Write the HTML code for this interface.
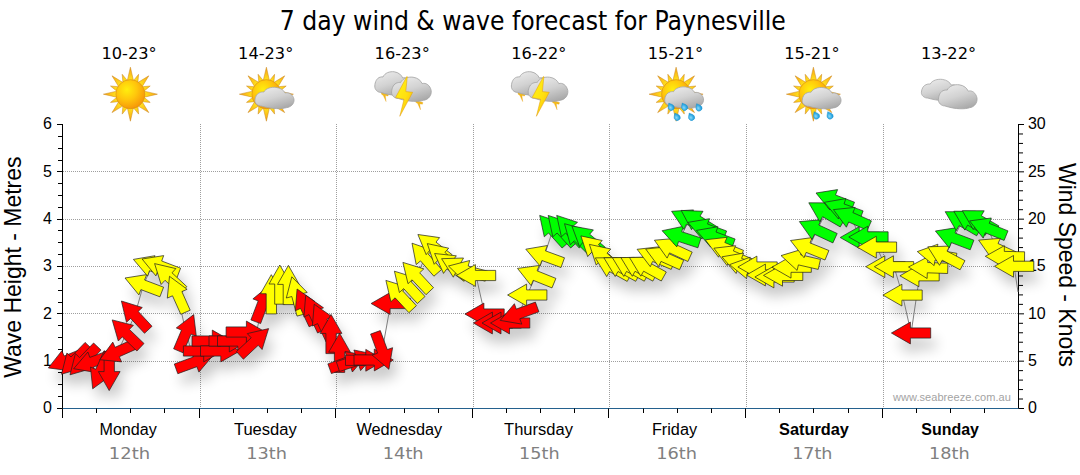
<!DOCTYPE html><html><head><meta charset="utf-8"><title>7 day wind &amp; wave forecast for Paynesville</title>
<style>html,body{margin:0;padding:0;background:#fff}svg{display:block}.ar{font-family:"Liberation Sans",Arial,sans-serif}.th{font-family:"DejaVu Sans Condensed","DejaVu Sans",Tahoma,sans-serif}.vd{font-family:"DejaVu Sans",Verdana,sans-serif}</style></head><body>
<svg width="1080" height="475" viewBox="0 0 1080 475">
<defs>
<filter id="sh" x="-5%" y="-30%" width="110%" height="170%"><feGaussianBlur stdDeviation="6.2"/></filter>
<radialGradient id="gs" cx="38%" cy="34%" r="70%"><stop offset="0" stop-color="#ffee0e"/><stop offset="0.5" stop-color="#ffc60c"/><stop offset="1" stop-color="#f69408"/></radialGradient>
<linearGradient id="gr" x1="0" y1="0" x2="0" y2="1"><stop offset="0" stop-color="#ffd21e"/><stop offset="1" stop-color="#f3a013"/></linearGradient>
<linearGradient id="gc" x1="0.2" y1="0" x2="0.7" y2="1"><stop offset="0" stop-color="#ebebeb"/><stop offset="0.5" stop-color="#d2d2d2"/><stop offset="1" stop-color="#a8a8a8"/></linearGradient>
<linearGradient id="gb" x1="0" y1="0" x2="1" y2="1"><stop offset="0" stop-color="#fff614"/><stop offset="0.55" stop-color="#ffe010"/><stop offset="1" stop-color="#f6ad0c"/></linearGradient>
<radialGradient id="gd" cx="40%" cy="60%" r="60%"><stop offset="0" stop-color="#8bd8f7"/><stop offset="0.6" stop-color="#35ade6"/><stop offset="1" stop-color="#1795d6"/></radialGradient>
</defs>
<rect width="1080" height="475" fill="#fff"/>
<path d="M63 361.5H1018.0 M63 313.5H1018.0 M63 266.5H1018.0 M63 219.5H1018.0 M63 171.5H1018.0 M200.5 124V408 M336.5 124V408 M473.5 124V408 M609.5 124V408 M746.5 124V408 M883.5 124V408" stroke="#9e9e9e" stroke-width="1" stroke-dasharray="1 1" fill="none" shape-rendering="crispEdges"/>
<text class="th" x="532.8" y="29.8" font-size="27" text-anchor="middle" textLength="506" lengthAdjust="spacingAndGlyphs" fill="#000">7 day wind &amp; wave forecast for Paynesville</text>
<text class="th" x="129.1" y="58.5" font-size="15.6" text-anchor="middle" textLength="55.2" lengthAdjust="spacingAndGlyphs" fill="#000">10-23°</text>
<text class="th" x="265.7" y="58.5" font-size="15.6" text-anchor="middle" textLength="55.2" lengthAdjust="spacingAndGlyphs" fill="#000">14-23°</text>
<text class="th" x="402.2" y="58.5" font-size="15.6" text-anchor="middle" textLength="55.2" lengthAdjust="spacingAndGlyphs" fill="#000">16-23°</text>
<text class="th" x="538.8" y="58.5" font-size="15.6" text-anchor="middle" textLength="55.2" lengthAdjust="spacingAndGlyphs" fill="#000">16-22°</text>
<text class="th" x="675.4" y="58.5" font-size="15.6" text-anchor="middle" textLength="55.2" lengthAdjust="spacingAndGlyphs" fill="#000">15-21°</text>
<text class="th" x="811.9" y="58.5" font-size="15.6" text-anchor="middle" textLength="55.2" lengthAdjust="spacingAndGlyphs" fill="#000">15-21°</text>
<text class="th" x="948.5" y="58.5" font-size="15.6" text-anchor="middle" textLength="55.2" lengthAdjust="spacingAndGlyphs" fill="#000">13-22°</text>
<radialGradient id="sr1" gradientUnits="userSpaceOnUse" cx="130.4" cy="94.2" r="27.5"><stop offset="0.5" stop-color="#ffe31c"/><stop offset="0.78" stop-color="#fcbd18"/><stop offset="1" stop-color="#f29714"/></radialGradient><path d="M127.4 80.3L130.4 67.2L133.4 80.3Z" fill="url(#sr1)" stroke="#c9861a" stroke-width="0.5"/><path d="M133.6 80.4L138.6 74.3L137.9 82.2Z" fill="url(#sr1)" stroke="#c9861a" stroke-width="0.5"/><path d="M138.2 82.3L148.8 75.8L142.3 86.4Z" fill="url(#sr1)" stroke="#c9861a" stroke-width="0.5"/><path d="M142.4 86.7L150.2 86.0L144.2 91.0Z" fill="url(#sr1)" stroke="#c9861a" stroke-width="0.5"/><path d="M144.3 91.2L157.4 94.2L144.3 97.2Z" fill="url(#sr1)" stroke="#c9861a" stroke-width="0.5"/><path d="M144.2 97.4L150.2 102.4L142.4 101.7Z" fill="url(#sr1)" stroke="#c9861a" stroke-width="0.5"/><path d="M142.3 102.0L148.8 112.6L138.2 106.1Z" fill="url(#sr1)" stroke="#c9861a" stroke-width="0.5"/><path d="M137.9 106.2L138.6 114.1L133.6 108.0Z" fill="url(#sr1)" stroke="#c9861a" stroke-width="0.5"/><path d="M133.4 108.1L130.4 121.2L127.4 108.1Z" fill="url(#sr1)" stroke="#c9861a" stroke-width="0.5"/><path d="M127.2 108.0L122.2 114.1L122.9 106.2Z" fill="url(#sr1)" stroke="#c9861a" stroke-width="0.5"/><path d="M122.6 106.1L112.0 112.6L118.5 102.0Z" fill="url(#sr1)" stroke="#c9861a" stroke-width="0.5"/><path d="M118.3 101.7L110.5 102.4L116.6 97.4Z" fill="url(#sr1)" stroke="#c9861a" stroke-width="0.5"/><path d="M116.5 97.2L103.4 94.2L116.5 91.2Z" fill="url(#sr1)" stroke="#c9861a" stroke-width="0.5"/><path d="M116.6 91.0L110.5 86.0L118.3 86.7Z" fill="url(#sr1)" stroke="#c9861a" stroke-width="0.5"/><path d="M118.5 86.4L112.0 75.8L122.6 82.3Z" fill="url(#sr1)" stroke="#c9861a" stroke-width="0.5"/><path d="M122.9 82.2L122.2 74.3L127.2 80.4Z" fill="url(#sr1)" stroke="#c9861a" stroke-width="0.5"/><circle cx="130.4" cy="94.2" r="14.5" fill="url(#gs)" stroke="#dc8f14" stroke-width="0.6"/>
<radialGradient id="sr2" gradientUnits="userSpaceOnUse" cx="266.4" cy="94.2" r="27.5"><stop offset="0.5" stop-color="#ffe31c"/><stop offset="0.78" stop-color="#fcbd18"/><stop offset="1" stop-color="#f29714"/></radialGradient><path d="M263.3 80.3L266.4 67.2L269.4 80.3Z" fill="url(#sr2)" stroke="#c9861a" stroke-width="0.5"/><path d="M269.6 80.4L274.6 74.3L273.9 82.2Z" fill="url(#sr2)" stroke="#c9861a" stroke-width="0.5"/><path d="M274.1 82.3L284.7 75.8L278.2 86.4Z" fill="url(#sr2)" stroke="#c9861a" stroke-width="0.5"/><path d="M278.4 86.7L286.2 86.0L280.2 91.0Z" fill="url(#sr2)" stroke="#c9861a" stroke-width="0.5"/><path d="M280.2 91.2L293.4 94.2L280.2 97.2Z" fill="url(#sr2)" stroke="#c9861a" stroke-width="0.5"/><path d="M280.2 97.4L286.2 102.4L278.4 101.7Z" fill="url(#sr2)" stroke="#c9861a" stroke-width="0.5"/><path d="M278.2 102.0L284.7 112.6L274.1 106.1Z" fill="url(#sr2)" stroke="#c9861a" stroke-width="0.5"/><path d="M273.9 106.2L274.6 114.1L269.6 108.0Z" fill="url(#sr2)" stroke="#c9861a" stroke-width="0.5"/><path d="M269.4 108.1L266.4 121.2L263.3 108.1Z" fill="url(#sr2)" stroke="#c9861a" stroke-width="0.5"/><path d="M263.2 108.0L258.1 114.1L258.8 106.2Z" fill="url(#sr2)" stroke="#c9861a" stroke-width="0.5"/><path d="M258.6 106.1L248.0 112.6L254.5 102.0Z" fill="url(#sr2)" stroke="#c9861a" stroke-width="0.5"/><path d="M254.3 101.7L246.5 102.4L252.5 97.4Z" fill="url(#sr2)" stroke="#c9861a" stroke-width="0.5"/><path d="M252.5 97.2L239.4 94.2L252.5 91.2Z" fill="url(#sr2)" stroke="#c9861a" stroke-width="0.5"/><path d="M252.5 91.0L246.5 86.0L254.3 86.7Z" fill="url(#sr2)" stroke="#c9861a" stroke-width="0.5"/><path d="M254.5 86.4L248.0 75.8L258.6 82.3Z" fill="url(#sr2)" stroke="#c9861a" stroke-width="0.5"/><path d="M258.8 82.2L258.1 74.3L263.2 80.4Z" fill="url(#sr2)" stroke="#c9861a" stroke-width="0.5"/><circle cx="266.4" cy="94.2" r="14.5" fill="url(#gs)" stroke="#dc8f14" stroke-width="0.6"/>
<path transform="translate(254.7 87.2) scale(0.3950 0.3633)" d="M17 52 C8 52 0 45 0.5 36 C1 26 6 16 15 14 C19 13 21 13 23 13.5 C28 3 42 -1 54 0.5 C66 2 74 9 77 16 C86 13 97 20 99.5 33 C101 45 92 55 80 56.5 C70 60 45 61 17 52 Z" fill="url(#gc)" stroke="#a4a4a4" stroke-width="2.03"/>
<path d="M381.7 92.4L388.5 94.4L388.0 96.0L385.3 95.6L386.1 101.6L383.3 95.4L381.3 94.0Z" fill="#f5bb18" stroke="#e09a10" stroke-width="0.3"/>
<path d="M416.1 100.6L422.9 102.6L422.4 104.2L419.7 103.8L420.5 109.8L417.7 103.6L415.7 102.2Z" fill="#f5bb18" stroke="#e09a10" stroke-width="0.3"/>
<path transform="translate(374.6 71.6) scale(0.3650 0.4000)" d="M17 52 C8 52 0 45 0.5 36 C1 26 6 16 15 14 C19 13 21 13 23 13.5 C28 3 42 -1 54 0.5 C66 2 74 9 77 16 C86 13 97 20 99.5 33 C101 45 92 55 80 56.5 C70 60 45 61 17 52 Z" fill="url(#gc)" stroke="#a4a4a4" stroke-width="2.19"/>
<path transform="translate(391.4 77.0) scale(0.4000 0.4133)" d="M17 52 C8 52 0 45 0.5 36 C1 26 6 16 15 14 C19 13 21 13 23 13.5 C28 3 42 -1 54 0.5 C66 2 74 9 77 16 C86 13 97 20 99.5 33 C101 45 92 55 80 56.5 C70 60 45 61 17 52 Z" fill="url(#gc)" stroke="#a4a4a4" stroke-width="2.00"/>
<path d="M406.8 76.5L395.5 97.6L404.0 99.3L399.8 116.3L412.7 92.3L405.8 91.6L407.3 76.7Z" fill="url(#gb)" stroke="#e09a10" stroke-width="0.5"/>
<path d="M518.3 92.4L525.1 94.4L524.6 96.0L521.9 95.6L522.7 101.6L519.9 95.4L517.9 94.0Z" fill="#f5bb18" stroke="#e09a10" stroke-width="0.3"/>
<path d="M552.7 100.6L559.5 102.6L559.0 104.2L556.3 103.8L557.1 109.8L554.3 103.6L552.3 102.2Z" fill="#f5bb18" stroke="#e09a10" stroke-width="0.3"/>
<path transform="translate(511.2 71.6) scale(0.3650 0.4000)" d="M17 52 C8 52 0 45 0.5 36 C1 26 6 16 15 14 C19 13 21 13 23 13.5 C28 3 42 -1 54 0.5 C66 2 74 9 77 16 C86 13 97 20 99.5 33 C101 45 92 55 80 56.5 C70 60 45 61 17 52 Z" fill="url(#gc)" stroke="#a4a4a4" stroke-width="2.19"/>
<path transform="translate(528.0 77.0) scale(0.4000 0.4133)" d="M17 52 C8 52 0 45 0.5 36 C1 26 6 16 15 14 C19 13 21 13 23 13.5 C28 3 42 -1 54 0.5 C66 2 74 9 77 16 C86 13 97 20 99.5 33 C101 45 92 55 80 56.5 C70 60 45 61 17 52 Z" fill="url(#gc)" stroke="#a4a4a4" stroke-width="2.00"/>
<path d="M543.4 76.5L532.1 97.6L540.6 99.3L536.4 116.3L549.3 92.3L542.4 91.6L543.9 76.7Z" fill="url(#gb)" stroke="#e09a10" stroke-width="0.5"/>
<radialGradient id="sr3" gradientUnits="userSpaceOnUse" cx="676.1" cy="94.2" r="27.5"><stop offset="0.5" stop-color="#ffe31c"/><stop offset="0.78" stop-color="#fcbd18"/><stop offset="1" stop-color="#f29714"/></radialGradient><path d="M673.0 80.3L676.1 67.2L679.1 80.3Z" fill="url(#sr3)" stroke="#c9861a" stroke-width="0.5"/><path d="M679.3 80.4L684.3 74.3L683.6 82.2Z" fill="url(#sr3)" stroke="#c9861a" stroke-width="0.5"/><path d="M683.9 82.3L694.5 75.8L687.9 86.4Z" fill="url(#sr3)" stroke="#c9861a" stroke-width="0.5"/><path d="M688.1 86.7L695.9 86.0L689.9 91.0Z" fill="url(#sr3)" stroke="#c9861a" stroke-width="0.5"/><path d="M689.9 91.2L703.1 94.2L689.9 97.2Z" fill="url(#sr3)" stroke="#c9861a" stroke-width="0.5"/><path d="M689.9 97.4L695.9 102.4L688.1 101.7Z" fill="url(#sr3)" stroke="#c9861a" stroke-width="0.5"/><path d="M687.9 102.0L694.5 112.6L683.9 106.1Z" fill="url(#sr3)" stroke="#c9861a" stroke-width="0.5"/><path d="M683.6 106.2L684.3 114.1L679.3 108.0Z" fill="url(#sr3)" stroke="#c9861a" stroke-width="0.5"/><path d="M679.1 108.1L676.1 121.2L673.0 108.1Z" fill="url(#sr3)" stroke="#c9861a" stroke-width="0.5"/><path d="M672.9 108.0L667.8 114.1L668.6 106.2Z" fill="url(#sr3)" stroke="#c9861a" stroke-width="0.5"/><path d="M668.3 106.1L657.7 112.6L664.2 102.0Z" fill="url(#sr3)" stroke="#c9861a" stroke-width="0.5"/><path d="M664.0 101.7L656.2 102.4L662.2 97.4Z" fill="url(#sr3)" stroke="#c9861a" stroke-width="0.5"/><path d="M662.2 97.2L649.1 94.2L662.2 91.2Z" fill="url(#sr3)" stroke="#c9861a" stroke-width="0.5"/><path d="M662.2 91.0L656.2 86.0L664.0 86.7Z" fill="url(#sr3)" stroke="#c9861a" stroke-width="0.5"/><path d="M664.2 86.4L657.7 75.8L668.3 82.3Z" fill="url(#sr3)" stroke="#c9861a" stroke-width="0.5"/><path d="M668.6 82.2L667.8 74.3L672.9 80.4Z" fill="url(#sr3)" stroke="#c9861a" stroke-width="0.5"/><circle cx="676.1" cy="94.2" r="14.5" fill="url(#gs)" stroke="#dc8f14" stroke-width="0.6"/>
<path transform="translate(664.5 86.8) scale(0.3920 0.3633)" d="M17 52 C8 52 0 45 0.5 36 C1 26 6 16 15 14 C19 13 21 13 23 13.5 C28 3 42 -1 54 0.5 C66 2 74 9 77 16 C86 13 97 20 99.5 33 C101 45 92 55 80 56.5 C70 60 45 61 17 52 Z" fill="url(#gc)" stroke="#a4a4a4" stroke-width="2.04"/>
<path transform="translate(670.7 106.6) rotate(-28)" d="M0 -4 C1.2 -2.3 3.1 -0.7 3.1 0.9 A3.1 3.1 0 0 1 -3.1 0.9 C-3.1 -0.7 -1.2 -2.3 0 -4Z" fill="url(#gd)" stroke="#1a8fcc" stroke-width="0.4"/>
<path transform="translate(684.1 106.6) rotate(-28)" d="M0 -4 C1.2 -2.3 3.1 -0.7 3.1 0.9 A3.1 3.1 0 0 1 -3.1 0.9 C-3.1 -0.7 -1.2 -2.3 0 -4Z" fill="url(#gd)" stroke="#1a8fcc" stroke-width="0.4"/>
<path transform="translate(698.5 107.2) rotate(-28)" d="M0 -4 C1.2 -2.3 3.1 -0.7 3.1 0.9 A3.1 3.1 0 0 1 -3.1 0.9 C-3.1 -0.7 -1.2 -2.3 0 -4Z" fill="url(#gd)" stroke="#1a8fcc" stroke-width="0.4"/>
<path transform="translate(676.7 116.6) rotate(-28)" d="M0 -4 C1.2 -2.3 3.1 -0.7 3.1 0.9 A3.1 3.1 0 0 1 -3.1 0.9 C-3.1 -0.7 -1.2 -2.3 0 -4Z" fill="url(#gd)" stroke="#1a8fcc" stroke-width="0.4"/>
<path transform="translate(691.1 116.6) rotate(-28)" d="M0 -4 C1.2 -2.3 3.1 -0.7 3.1 0.9 A3.1 3.1 0 0 1 -3.1 0.9 C-3.1 -0.7 -1.2 -2.3 0 -4Z" fill="url(#gd)" stroke="#1a8fcc" stroke-width="0.4"/>
<radialGradient id="sr4" gradientUnits="userSpaceOnUse" cx="813.4" cy="94.2" r="27.5"><stop offset="0.5" stop-color="#ffe31c"/><stop offset="0.78" stop-color="#fcbd18"/><stop offset="1" stop-color="#f29714"/></radialGradient><path d="M810.4 80.3L813.4 67.2L816.5 80.3Z" fill="url(#sr4)" stroke="#c9861a" stroke-width="0.5"/><path d="M816.6 80.4L821.7 74.3L821.0 82.2Z" fill="url(#sr4)" stroke="#c9861a" stroke-width="0.5"/><path d="M821.2 82.3L831.8 75.8L825.3 86.4Z" fill="url(#sr4)" stroke="#c9861a" stroke-width="0.5"/><path d="M825.5 86.7L833.3 86.0L827.3 91.0Z" fill="url(#sr4)" stroke="#c9861a" stroke-width="0.5"/><path d="M827.3 91.2L840.4 94.2L827.3 97.2Z" fill="url(#sr4)" stroke="#c9861a" stroke-width="0.5"/><path d="M827.3 97.4L833.3 102.4L825.5 101.7Z" fill="url(#sr4)" stroke="#c9861a" stroke-width="0.5"/><path d="M825.3 102.0L831.8 112.6L821.2 106.1Z" fill="url(#sr4)" stroke="#c9861a" stroke-width="0.5"/><path d="M821.0 106.2L821.7 114.1L816.6 108.0Z" fill="url(#sr4)" stroke="#c9861a" stroke-width="0.5"/><path d="M816.5 108.1L813.4 121.2L810.4 108.1Z" fill="url(#sr4)" stroke="#c9861a" stroke-width="0.5"/><path d="M810.2 108.0L805.2 114.1L805.9 106.2Z" fill="url(#sr4)" stroke="#c9861a" stroke-width="0.5"/><path d="M805.7 106.1L795.1 112.6L801.6 102.0Z" fill="url(#sr4)" stroke="#c9861a" stroke-width="0.5"/><path d="M801.4 101.7L793.6 102.4L799.6 97.4Z" fill="url(#sr4)" stroke="#c9861a" stroke-width="0.5"/><path d="M799.6 97.2L786.4 94.2L799.6 91.2Z" fill="url(#sr4)" stroke="#c9861a" stroke-width="0.5"/><path d="M799.6 91.0L793.6 86.0L801.4 86.7Z" fill="url(#sr4)" stroke="#c9861a" stroke-width="0.5"/><path d="M801.6 86.4L795.1 75.8L805.7 82.3Z" fill="url(#sr4)" stroke="#c9861a" stroke-width="0.5"/><path d="M805.9 82.2L805.2 74.3L810.2 80.4Z" fill="url(#sr4)" stroke="#c9861a" stroke-width="0.5"/><circle cx="813.4" cy="94.2" r="14.5" fill="url(#gs)" stroke="#dc8f14" stroke-width="0.6"/>
<path transform="translate(802.0 87.4) scale(0.3920 0.3633)" d="M17 52 C8 52 0 45 0.5 36 C1 26 6 16 15 14 C19 13 21 13 23 13.5 C28 3 42 -1 54 0.5 C66 2 74 9 77 16 C86 13 97 20 99.5 33 C101 45 92 55 80 56.5 C70 60 45 61 17 52 Z" fill="url(#gc)" stroke="#a4a4a4" stroke-width="2.04"/>
<path transform="translate(816.0 115.2) rotate(-28)" d="M0 -4 C1.2 -2.3 3.1 -0.7 3.1 0.9 A3.1 3.1 0 0 1 -3.1 0.9 C-3.1 -0.7 -1.2 -2.3 0 -4Z" fill="url(#gd)" stroke="#1a8fcc" stroke-width="0.4"/>
<path transform="translate(829.6 115.2) rotate(-28)" d="M0 -4 C1.2 -2.3 3.1 -0.7 3.1 0.9 A3.1 3.1 0 0 1 -3.1 0.9 C-3.1 -0.7 -1.2 -2.3 0 -4Z" fill="url(#gd)" stroke="#1a8fcc" stroke-width="0.4"/>
<path transform="translate(921.2 79.2) scale(0.3900 0.3633)" d="M17 52 C8 52 0 45 0.5 36 C1 26 6 16 15 14 C19 13 21 13 23 13.5 C28 3 42 -1 54 0.5 C66 2 74 9 77 16 C86 13 97 20 99.5 33 C101 45 92 55 80 56.5 C70 60 45 61 17 52 Z" fill="url(#gc)" stroke="#a4a4a4" stroke-width="2.05"/>
<path transform="translate(938.2 84.6) scale(0.3900 0.4100)" d="M17 52 C8 52 0 45 0.5 36 C1 26 6 16 15 14 C19 13 21 13 23 13.5 C28 3 42 -1 54 0.5 C66 2 74 9 77 16 C86 13 97 20 99.5 33 C101 45 92 55 80 56.5 C70 60 45 61 17 52 Z" fill="url(#gc)" stroke="#a4a4a4" stroke-width="2.05"/>
<path d="M62.5 124.0V418.0 M57.0 408.50H62.5 M58.0 396.50H62.5 M58.0 384.50H62.5 M58.0 372.50H62.5 M57.0 361.50H62.5 M58.0 349.50H62.5 M58.0 337.50H62.5 M58.0 325.50H62.5 M57.0 313.50H62.5 M58.0 302.50H62.5 M58.0 290.50H62.5 M58.0 278.50H62.5 M57.0 266.50H62.5 M58.0 254.50H62.5 M58.0 242.50H62.5 M58.0 230.50H62.5 M57.0 219.50H62.5 M58.0 207.50H62.5 M58.0 195.50H62.5 M58.0 183.50H62.5 M57.0 171.50H62.5 M58.0 160.50H62.5 M58.0 148.50H62.5 M58.0 136.50H62.5 M57.0 124.50H62.5 M1018.50 124.0V409.0 M1018.50 408.50h5.5 M1018.50 399.03h4.5 M1018.50 389.57h4.5 M1018.50 380.10h4.5 M1018.50 370.63h4.5 M1018.50 361.17h5.5 M1018.50 351.70h4.5 M1018.50 342.23h4.5 M1018.50 332.77h4.5 M1018.50 323.30h4.5 M1018.50 313.83h5.5 M1018.50 304.37h4.5 M1018.50 294.90h4.5 M1018.50 285.43h4.5 M1018.50 275.97h4.5 M1018.50 266.50h5.5 M1018.50 257.03h4.5 M1018.50 247.57h4.5 M1018.50 238.10h4.5 M1018.50 228.63h4.5 M1018.50 219.17h5.5 M1018.50 209.70h4.5 M1018.50 200.23h4.5 M1018.50 190.77h4.5 M1018.50 181.30h4.5 M1018.50 171.83h5.5 M1018.50 162.37h4.5 M1018.50 152.90h4.5 M1018.50 143.43h4.5 M1018.50 133.97h4.5 M1018.50 124.50h5.5" stroke="#000" stroke-width="1" fill="none"/>
<path d="M62.5 408.5H1018.50" stroke="#24618e" stroke-width="1.2" fill="none"/>
<path d="M62.5 408.5v9.5 M96.5 408.5v4.5 M130.5 408.5v4.5 M164.5 408.5v4.5 M199.5 408.5v9.5 M233.5 408.5v4.5 M267.5 408.5v4.5 M301.5 408.5v4.5 M335.5 408.5v9.5 M369.5 408.5v4.5 M404.5 408.5v4.5 M438.5 408.5v4.5 M472.5 408.5v9.5 M506.5 408.5v4.5 M540.5 408.5v4.5 M574.5 408.5v4.5 M608.5 408.5v9.5 M643.5 408.5v4.5 M677.5 408.5v4.5 M711.5 408.5v4.5 M745.5 408.5v9.5 M779.5 408.5v4.5 M813.5 408.5v4.5 M848.5 408.5v4.5 M882.5 408.5v9.5 M916.5 408.5v4.5 M950.5 408.5v4.5 M984.5 408.5v4.5" stroke="#000" stroke-width="1" fill="none"/>
<text class="ar" x="51.8" y="413.4" font-size="16" text-anchor="end" fill="#000">0</text>
<text class="ar" x="51.8" y="366.1" font-size="16" text-anchor="end" fill="#000">1</text>
<text class="ar" x="51.8" y="318.7" font-size="16" text-anchor="end" fill="#000">2</text>
<text class="ar" x="51.8" y="271.4" font-size="16" text-anchor="end" fill="#000">3</text>
<text class="ar" x="51.8" y="224.1" font-size="16" text-anchor="end" fill="#000">4</text>
<text class="ar" x="51.8" y="176.7" font-size="16" text-anchor="end" fill="#000">5</text>
<text class="ar" x="51.8" y="129.4" font-size="16" text-anchor="end" fill="#000">6</text>
<text class="ar" x="1027.9" y="413.4" font-size="16" fill="#000">0</text>
<text class="ar" x="1027.9" y="366.1" font-size="16" fill="#000">5</text>
<text class="ar" x="1027.9" y="318.7" font-size="16" fill="#000">10</text>
<text class="ar" x="1027.9" y="271.4" font-size="16" fill="#000">15</text>
<text class="ar" x="1027.9" y="224.1" font-size="16" fill="#000">20</text>
<text class="ar" x="1027.9" y="176.7" font-size="16" fill="#000">25</text>
<text class="ar" x="1027.9" y="129.4" font-size="16" fill="#000">30</text>
<text class="ar" transform="translate(20.5 377.8) rotate(-90)" font-size="24" textLength="221.3" lengthAdjust="spacingAndGlyphs" fill="#000">Wave Height - Metres</text>
<text class="ar" transform="translate(1059.3 163) rotate(90)" font-size="24" textLength="204" lengthAdjust="spacingAndGlyphs" fill="#000">Wind Speed - Knots</text>
<text class="ar" x="893" y="400.8" font-size="11" textLength="117.8" lengthAdjust="spacing" fill="#a3a3a3">www.seabreeze.com.au</text>
<text class="ar" x="99.5" y="435" font-size="16" textLength="57.3" lengthAdjust="spacingAndGlyphs" fill="#000">Monday</text>
<text class="vd" x="108.8" y="458.5" font-size="16.5" textLength="41.3" lengthAdjust="spacingAndGlyphs" fill="#808080">12th</text>
<text class="ar" x="233.9" y="435" font-size="16" textLength="62.9" lengthAdjust="spacingAndGlyphs" fill="#000">Tuesday</text>
<text class="vd" x="246.3" y="458.5" font-size="16.5" textLength="40.7" lengthAdjust="spacingAndGlyphs" fill="#808080">13th</text>
<text class="ar" x="356.4" y="435" font-size="16" textLength="85.8" lengthAdjust="spacingAndGlyphs" fill="#000">Wednesday</text>
<text class="vd" x="382.8" y="458.5" font-size="16.5" textLength="40.8" lengthAdjust="spacingAndGlyphs" fill="#808080">14th</text>
<text class="ar" x="504.1" y="435" font-size="16" textLength="68.8" lengthAdjust="spacingAndGlyphs" fill="#000">Thursday</text>
<text class="vd" x="519.1" y="458.5" font-size="16.5" textLength="40.5" lengthAdjust="spacingAndGlyphs" fill="#808080">15th</text>
<text class="ar" x="651.9" y="435" font-size="16" textLength="45.2" lengthAdjust="spacingAndGlyphs" fill="#000">Friday</text>
<text class="vd" x="656.2" y="458.5" font-size="16.5" textLength="40.8" lengthAdjust="spacingAndGlyphs" fill="#808080">16th</text>
<text class="ar" x="779.0" y="435" font-size="16" font-weight="bold" textLength="69.9" lengthAdjust="spacingAndGlyphs" fill="#000">Saturday</text>
<text class="vd" x="792.2" y="458.5" font-size="16.5" textLength="40.3" lengthAdjust="spacingAndGlyphs" fill="#808080">17th</text>
<text class="ar" x="921.3" y="435" font-size="16" font-weight="bold" textLength="57.6" lengthAdjust="spacingAndGlyphs" fill="#000">Sunday</text>
<text class="vd" x="929.1" y="458.5" font-size="16.5" textLength="40.7" lengthAdjust="spacingAndGlyphs" fill="#808080">18th</text>
<g filter="url(#sh)" fill="#000" opacity="0.21" transform="translate(5 11)">
<polygon points="48.4,367.9 61.9,350.7 64.1,356.0 82.9,348.4 86.7,357.9 67.9,365.5 70.1,370.8"/>
<polygon points="61.5,374.2 66.9,353.0 71.0,357.0 85.1,342.4 92.5,349.5 78.4,364.1 82.5,368.1"/>
<polygon points="70.0,374.8 75.4,353.6 79.5,357.6 93.6,343.0 101.0,350.1 86.9,364.7 91.0,368.7"/>
<polygon points="73.7,368.7 87.9,352.0 89.8,357.4 108.9,350.4 112.4,360.1 93.3,367.1 95.3,372.4"/>
<polygon points="92.7,388.8 90.5,367.0 95.8,369.3 104.0,350.8 113.4,354.9 105.2,373.5 110.4,375.8"/>
<polygon points="109.2,390.6 98.4,371.6 104.1,371.6 104.1,351.4 114.4,351.4 114.4,371.6 120.1,371.6"/>
<polygon points="99.8,359.7 112.8,342.1 115.1,347.3 133.6,339.0 137.8,348.4 119.3,356.7 121.6,361.9"/>
<polygon points="112.2,319.9 133.4,325.3 129.4,329.4 144.0,343.5 136.9,351.0 122.3,336.9 118.3,341.0"/>
<polygon points="121.4,301.0 142.3,307.5 138.2,311.4 152.0,326.3 144.5,333.3 130.6,318.4 126.5,322.3"/>
<polygon points="125.0,278.0 146.7,274.6 144.6,280.0 163.6,287.2 159.9,296.8 140.9,289.6 138.9,294.9"/>
<polygon points="133.4,259.4 155.0,255.7 153.1,261.0 172.1,268.0 168.6,277.7 149.5,270.7 147.6,276.1"/>
<polygon points="142.1,259.0 163.7,255.6 161.7,261.0 180.6,268.2 176.9,277.8 158.0,270.6 155.9,275.9"/>
<polygon points="154.6,263.6 175.9,268.6 172.0,272.8 186.8,286.6 179.8,294.2 165.0,280.3 161.1,284.5"/>
<polygon points="169.5,276.3 187.1,289.3 181.9,291.6 190.2,310.2 180.8,314.3 172.5,295.8 167.3,298.1"/>
<polygon points="193.7,314.6 196.3,336.3 191.0,334.1 183.1,352.8 173.6,348.8 181.5,330.1 176.3,327.9"/>
<polygon points="213.0,355.4 198.9,372.1 196.9,366.7 177.8,373.7 174.3,364.0 193.4,357.0 191.4,351.7"/>
<polygon points="222.7,351.0 203.7,361.9 203.7,356.1 183.4,356.1 183.4,345.9 203.7,345.9 203.7,340.1"/>
<polygon points="231.3,341.0 212.3,351.9 212.3,346.1 192.0,346.1 192.0,335.9 212.3,335.9 212.3,330.1"/>
<polygon points="239.8,351.0 220.8,361.9 220.8,356.1 200.5,356.1 200.5,345.9 220.8,345.9 220.8,340.1"/>
<polygon points="248.3,341.0 229.3,351.9 229.3,346.1 209.0,346.1 209.0,335.9 229.3,335.9 229.3,330.1"/>
<polygon points="256.8,341.0 237.8,351.9 237.8,346.1 217.5,346.1 217.5,335.9 237.8,335.9 237.8,330.1"/>
<polygon points="265.4,332.0 246.4,342.9 246.4,337.1 226.1,337.1 226.1,326.9 246.4,326.9 246.4,321.1"/>
<polygon points="268.6,328.6 262.1,349.5 258.2,345.3 243.4,359.2 236.4,351.6 251.2,337.8 247.3,333.6"/>
<polygon points="269.8,285.1 273.2,306.7 267.8,304.6 260.6,323.6 250.9,319.9 258.2,300.9 252.9,298.9"/>
<polygon points="271.3,274.7 282.2,293.7 276.5,293.7 276.5,313.9 266.2,313.9 266.2,293.7 260.5,293.7"/>
<polygon points="279.8,265.0 290.7,284.0 285.0,284.0 285.0,304.2 274.7,304.2 274.7,284.0 269.0,284.0"/>
<polygon points="288.4,265.4 299.2,284.4 293.5,284.4 293.5,304.6 283.2,304.6 283.2,284.4 277.5,284.4"/>
<polygon points="291.8,276.8 307.2,292.4 301.7,293.8 307.0,313.4 297.0,316.1 291.8,296.5 286.3,298.0"/>
<polygon points="297.1,289.0 315.0,301.6 309.8,304.0 318.4,322.4 309.1,326.8 300.5,308.4 295.3,310.8"/>
<polygon points="305.7,295.2 323.5,307.8 318.4,310.2 326.9,328.6 317.6,333.0 309.0,314.6 303.9,317.0"/>
<polygon points="314.2,304.2 332.1,316.8 326.9,319.2 335.5,337.6 326.1,342.0 317.6,323.6 312.4,326.0"/>
<polygon points="331.0,314.4 341.9,333.4 336.2,333.4 336.2,353.6 325.9,353.6 325.9,333.4 320.2,333.4"/>
<polygon points="339.6,333.2 350.4,352.2 344.7,352.2 344.7,372.4 334.4,372.4 334.4,352.2 328.7,352.2"/>
<polygon points="366.6,355.3 352.4,372.0 350.5,366.6 331.4,373.6 327.9,363.9 346.9,356.9 345.0,351.6"/>
<polygon points="375.3,354.4 360.6,370.6 358.8,365.2 339.5,371.5 336.3,361.7 355.6,355.4 353.9,350.0"/>
<polygon points="384.8,360.3 365.8,371.2 365.8,365.4 345.5,365.4 345.5,355.2 365.8,355.2 365.8,349.4"/>
<polygon points="393.3,360.0 374.3,370.9 374.3,365.1 354.0,365.1 354.0,354.9 374.3,354.9 374.3,349.1"/>
<polygon points="388.9,369.3 372.2,355.1 377.6,353.2 370.6,334.1 380.3,330.6 387.3,349.6 392.6,347.7"/>
<polygon points="371.1,303.5 390.1,292.6 390.1,298.4 410.4,298.4 410.4,308.6 390.1,308.6 390.1,314.4"/>
<polygon points="385.9,280.4 406.8,286.9 402.6,290.8 416.4,305.7 408.9,312.7 395.1,297.8 390.9,301.7"/>
<polygon points="394.4,271.2 415.3,277.7 411.1,281.6 425.0,296.5 417.4,303.5 403.6,288.6 399.4,292.5"/>
<polygon points="402.9,262.4 423.8,268.9 419.7,272.8 433.5,287.7 426.0,294.7 412.1,279.8 408.0,283.7"/>
<polygon points="412.0,243.2 432.6,250.4 428.3,254.1 441.6,269.5 433.9,276.2 420.5,260.9 416.2,264.6"/>
<polygon points="417.9,234.5 439.6,237.6 436.0,242.1 452.0,254.6 445.7,262.8 429.7,250.3 426.2,254.7"/>
<polygon points="427.3,243.6 448.7,248.2 444.9,252.4 460.0,266.0 453.1,273.7 438.0,260.1 434.2,264.3"/>
<polygon points="434.6,253.5 456.3,255.8 453.0,260.5 469.4,272.4 463.3,280.7 446.9,268.8 443.5,273.4"/>
<polygon points="441.6,258.7 463.5,258.0 460.8,263.0 478.7,272.6 473.9,281.7 456.0,272.1 453.3,277.2"/>
<polygon points="448.5,266.0 469.7,260.5 468.2,266.0 487.8,271.2 485.2,281.2 465.5,275.9 464.1,281.4"/>
<polygon points="456.4,275.5 475.4,264.6 475.4,270.4 495.7,270.4 495.7,280.6 475.4,280.6 475.4,286.4"/>
<polygon points="464.9,314.0 483.9,303.1 483.9,308.9 504.2,308.9 504.2,319.1 483.9,319.1 483.9,324.9"/>
<polygon points="473.4,323.0 492.4,312.1 492.4,317.9 512.7,317.9 512.7,328.1 492.4,328.1 492.4,333.9"/>
<polygon points="482.0,323.0 501.0,312.1 501.0,317.9 521.3,317.9 521.3,328.1 501.0,328.1 501.0,333.9"/>
<polygon points="490.5,323.0 509.5,312.1 509.5,317.9 529.8,317.9 529.8,328.1 509.5,328.1 509.5,333.9"/>
<polygon points="500.2,320.4 514.4,303.7 516.3,309.1 535.4,302.1 538.9,311.8 519.8,318.8 521.8,324.1"/>
<polygon points="507.6,295.0 526.6,284.1 526.6,289.9 546.9,289.9 546.9,300.1 526.6,300.1 526.6,305.9"/>
<polygon points="517.5,268.4 539.2,265.5 537.1,270.8 555.9,278.4 552.0,287.9 533.2,280.3 531.1,285.6"/>
<polygon points="525.8,249.2 547.4,245.5 545.4,250.8 564.5,257.8 561.0,267.5 541.9,260.5 540.0,265.9"/>
<polygon points="539.7,215.4 560.4,222.3 556.2,226.1 569.8,241.2 562.1,248.0 548.5,233.0 544.3,236.8"/>
<polygon points="548.2,215.4 569.0,222.3 564.7,226.1 578.3,241.2 570.7,248.0 557.1,233.0 552.8,236.8"/>
<polygon points="556.7,215.4 577.5,222.3 573.3,226.1 586.8,241.2 579.2,248.0 565.6,233.0 561.4,236.8"/>
<polygon points="564.5,223.7 585.6,229.5 581.6,233.5 595.9,247.9 588.7,255.1 574.3,240.8 570.3,244.8"/>
<polygon points="571.9,226.0 593.4,229.9 589.7,234.2 605.3,247.3 598.7,255.2 583.1,242.1 579.5,246.5"/>
<polygon points="580.9,235.9 602.2,240.5 598.4,244.7 613.5,258.3 606.6,266.0 591.5,252.4 587.7,256.6"/>
<polygon points="589.4,244.4 610.8,249.0 607.0,253.2 622.0,266.8 615.1,274.5 600.1,260.9 596.2,265.1"/>
<polygon points="595.3,257.9 617.2,257.6 614.4,262.6 632.2,272.4 627.2,281.4 609.5,271.6 606.7,276.6"/>
<polygon points="603.9,257.8 625.7,257.5 623.0,262.5 640.7,272.3 635.7,281.3 618.0,271.5 615.2,276.5"/>
<polygon points="612.4,257.7 634.3,257.4 631.5,262.4 649.3,272.2 644.3,281.2 626.5,271.4 623.8,276.4"/>
<polygon points="620.9,257.6 642.8,257.3 640.0,262.3 657.8,272.1 652.8,281.1 635.0,271.3 632.3,276.3"/>
<polygon points="629.5,257.5 651.3,257.2 648.6,262.2 666.3,272.0 661.3,281.0 643.6,271.2 640.8,276.2"/>
<polygon points="637.1,249.3 658.8,246.8 656.6,252.0 675.3,259.9 671.2,269.4 652.6,261.5 650.3,266.7"/>
<polygon points="645.7,249.0 667.5,246.8 665.2,252.0 683.7,260.3 679.6,269.7 661.0,261.4 658.7,266.6"/>
<polygon points="654.4,240.2 676.2,238.4 673.8,243.6 692.2,252.1 687.9,261.5 669.5,252.9 667.1,258.1"/>
<polygon points="662.1,230.7 683.5,226.3 681.7,231.7 701.0,238.0 697.9,247.8 678.6,241.5 676.8,246.9"/>
<polygon points="671.6,211.3 693.5,209.9 691.0,215.0 709.2,223.9 704.7,233.1 686.4,224.2 683.9,229.4"/>
<polygon points="681.2,210.4 703.0,211.3 700.0,216.1 717.2,226.8 711.8,235.6 694.5,224.8 691.5,229.7"/>
<polygon points="687.9,222.4 709.5,218.7 707.5,224.0 726.6,231.0 723.1,240.7 704.0,233.7 702.0,239.1"/>
<polygon points="696.4,230.4 718.0,226.7 716.0,232.0 735.1,239.0 731.6,248.7 712.5,241.7 710.6,247.1"/>
<polygon points="705.3,239.8 727.1,237.3 724.8,242.5 743.5,250.4 739.5,259.9 720.8,252.0 718.6,257.2"/>
<polygon points="713.9,248.2 735.6,245.7 733.4,250.9 752.0,258.8 748.0,268.3 729.3,260.4 727.1,265.6"/>
<polygon points="722.0,256.8 743.6,253.1 741.6,258.4 760.7,265.4 757.2,275.1 738.1,268.1 736.1,273.5"/>
<polygon points="729.6,264.6 750.2,257.2 749.3,262.8 769.2,266.3 767.5,276.5 747.5,273.0 746.5,278.6"/>
<polygon points="737.9,267.0 756.9,256.1 756.9,261.9 777.2,261.9 777.2,272.1 756.9,272.1 756.9,277.9"/>
<polygon points="746.4,275.0 765.4,264.1 765.4,269.9 785.7,269.9 785.7,280.1 765.4,280.1 765.4,285.9"/>
<polygon points="754.9,277.0 773.9,266.1 773.9,271.9 794.2,271.9 794.2,282.1 773.9,282.1 773.9,287.9"/>
<polygon points="763.5,275.4 782.5,264.5 782.5,270.2 802.8,270.2 802.8,280.5 782.5,280.5 782.5,286.2"/>
<polygon points="772.0,267.2 791.0,256.3 791.0,262.1 811.3,262.1 811.3,272.3 791.0,272.3 791.0,278.1"/>
<polygon points="781.0,255.6 802.0,249.3 800.7,254.8 820.5,259.4 818.2,269.4 798.4,264.9 797.1,270.4"/>
<polygon points="790.5,240.5 812.2,237.6 810.0,242.9 828.9,250.5 825.0,260.0 806.2,252.4 804.0,257.7"/>
<polygon points="799.4,221.6 821.2,219.8 818.8,225.0 837.2,233.5 832.9,242.9 814.5,234.3 812.1,239.5"/>
<polygon points="808.8,202.8 830.6,202.9 827.8,207.8 845.4,218.0 840.2,226.9 822.6,216.7 819.8,221.7"/>
<polygon points="816.0,193.0 837.6,189.6 835.5,195.0 854.5,202.2 850.8,211.8 831.8,204.6 829.8,209.9"/>
<polygon points="824.4,202.3 845.9,198.6 844.0,203.9 863.1,210.9 859.5,220.6 840.5,213.6 838.5,219.0"/>
<polygon points="833.4,209.6 855.2,207.4 852.9,212.6 871.4,220.9 867.2,230.3 848.7,222.0 846.4,227.2"/>
<polygon points="840.2,237.5 859.2,226.7 859.2,232.3 879.5,232.3 879.5,242.7 859.2,242.7 859.2,248.3"/>
<polygon points="848.8,237.0 867.8,226.2 867.8,231.8 888.1,231.8 888.1,242.2 867.8,242.2 867.8,247.8"/>
<polygon points="857.3,247.2 876.3,236.3 876.3,242.0 896.6,242.0 896.6,252.3 876.3,252.3 876.3,258.1"/>
<polygon points="865.8,266.7 884.8,255.8 884.8,261.6 905.1,261.6 905.1,271.8 884.8,271.8 884.8,277.6"/>
<polygon points="874.4,266.7 893.4,255.8 893.4,261.6 913.7,261.6 913.7,271.8 893.4,271.8 893.4,277.6"/>
<polygon points="882.9,295.1 901.9,284.2 901.9,290.0 922.2,290.0 922.2,300.2 901.9,300.2 901.9,306.0"/>
<polygon points="891.4,333.0 910.4,322.1 910.4,327.9 930.7,327.9 930.7,338.1 910.4,338.1 910.4,343.9"/>
<polygon points="899.9,275.8 918.9,264.9 918.9,270.7 939.2,270.7 939.2,280.9 918.9,280.9 918.9,286.7"/>
<polygon points="908.5,267.0 927.9,256.8 927.7,262.5 947.9,263.2 947.6,273.5 927.3,272.8 927.1,278.5"/>
<polygon points="917.3,251.6 937.9,244.2 936.9,249.8 956.9,253.3 955.1,263.5 935.1,260.0 934.1,265.6"/>
<polygon points="927.8,246.8 949.7,246.1 947.0,251.1 965.0,260.7 960.1,269.8 942.2,260.2 939.5,265.3"/>
<polygon points="935.4,231.0 957.0,227.6 955.0,233.0 973.9,240.2 970.2,249.8 951.3,242.6 949.2,247.9"/>
<polygon points="945.2,211.7 967.1,211.8 964.3,216.7 981.8,226.9 976.7,235.8 959.1,225.6 956.3,230.6"/>
<polygon points="953.8,211.2 975.6,211.3 972.8,216.2 990.4,226.4 985.2,235.3 967.6,225.1 964.8,230.1"/>
<polygon points="962.3,210.7 984.2,210.8 981.3,215.7 998.9,225.9 993.8,234.8 976.2,224.6 973.3,229.6"/>
<polygon points="969.6,220.9 991.3,218.0 989.2,223.3 1008.0,230.9 1004.1,240.4 985.3,232.8 983.2,238.1"/>
<polygon points="978.6,240.1 1000.4,238.3 998.0,243.5 1016.4,252.0 1012.0,261.4 993.6,252.8 991.2,258.0"/>
<polygon points="985.3,256.3 1004.4,245.7 1004.3,251.4 1024.6,251.8 1024.5,262.1 1004.2,261.7 1004.1,267.4"/>
<polygon points="994.5,266.3 1013.5,255.5 1013.5,261.2 1033.8,261.2 1033.8,271.4 1013.5,271.4 1013.5,277.2"/>
</g>
<polyline points="66.6,360.5 75.1,360.1 83.7,360.7 92.2,362.0 100.7,370.8 109.2,371.0 117.8,351.7 126.3,333.6 134.8,315.4 143.4,285.0 151.9,266.1 160.4,266.0 169.0,277.0 177.5,294.3 186.0,332.7 194.5,362.1 203.1,351.0 211.6,341.0 220.1,351.0 228.7,341.0 237.2,341.0 245.7,332.0 254.3,342.0 262.8,303.4 271.3,294.3 279.8,284.6 288.4,285.0 296.9,295.8 305.4,306.8 314.0,313.0 322.5,322.0 331.0,334.0 339.6,352.8 348.1,362.0 356.6,360.5 365.1,360.3 373.7,360.0 382.2,350.8 390.7,303.5 399.3,294.8 407.8,285.6 416.3,276.8 424.9,258.0 433.4,246.6 441.9,256.7 450.4,265.0 459.0,267.9 467.5,271.1 476.0,275.5 484.6,314.0 493.1,323.0 501.6,323.0 510.2,323.0 518.7,313.7 527.2,295.0 535.8,275.8 544.3,255.9 552.8,230.0 561.3,230.0 569.9,230.0 578.4,237.6 586.9,238.6 595.5,249.0 604.0,257.5 612.5,267.4 621.0,267.3 629.6,267.2 638.1,267.1 646.6,267.0 655.2,257.0 663.7,257.0 672.2,248.5 680.8,236.8 689.3,219.9 697.8,220.8 706.4,229.1 714.9,237.1 723.4,247.5 731.9,255.9 740.5,263.5 749.0,268.0 757.5,267.0 766.1,275.0 774.6,277.0 783.1,275.4 791.6,267.2 800.2,260.0 808.7,247.9 817.2,229.9 825.8,212.6 834.3,200.0 842.8,209.0 851.4,217.6 859.9,237.5 868.4,237.0 876.9,247.2 885.5,266.7 894.0,266.7 902.5,295.1 911.1,333.0 919.6,275.8 928.1,267.7 936.7,255.0 945.2,256.0 953.7,238.0 962.2,221.5 970.8,221.0 979.3,220.5 987.8,228.3 996.4,248.4 1004.9,256.6 1014.1,266.3 1018,292" fill="none" stroke="#7d7d7d" stroke-width="1"/>
<g stroke="#1e1e1e" stroke-width="0.7" stroke-linejoin="miter">
<polygon points="48.4,367.9 61.9,350.7 64.1,356.0 82.9,348.4 86.7,357.9 67.9,365.5 70.1,370.8" fill="#ff0000"/>
<polygon points="61.5,374.2 66.9,353.0 71.0,357.0 85.1,342.4 92.5,349.5 78.4,364.1 82.5,368.1" fill="#ff0000"/>
<polygon points="70.0,374.8 75.4,353.6 79.5,357.6 93.6,343.0 101.0,350.1 86.9,364.7 91.0,368.7" fill="#ff0000"/>
<polygon points="73.7,368.7 87.9,352.0 89.8,357.4 108.9,350.4 112.4,360.1 93.3,367.1 95.3,372.4" fill="#ff0000"/>
<polygon points="92.7,388.8 90.5,367.0 95.8,369.3 104.0,350.8 113.4,354.9 105.2,373.5 110.4,375.8" fill="#ff0000"/>
<polygon points="109.2,390.6 98.4,371.6 104.1,371.6 104.1,351.4 114.4,351.4 114.4,371.6 120.1,371.6" fill="#ff0000"/>
<polygon points="99.8,359.7 112.8,342.1 115.1,347.3 133.6,339.0 137.8,348.4 119.3,356.7 121.6,361.9" fill="#ff0000"/>
<polygon points="112.2,319.9 133.4,325.3 129.4,329.4 144.0,343.5 136.9,351.0 122.3,336.9 118.3,341.0" fill="#ff0000"/>
<polygon points="121.4,301.0 142.3,307.5 138.2,311.4 152.0,326.3 144.5,333.3 130.6,318.4 126.5,322.3" fill="#ff0000"/>
<polygon points="125.0,278.0 146.7,274.6 144.6,280.0 163.6,287.2 159.9,296.8 140.9,289.6 138.9,294.9" fill="#ffff00"/>
<polygon points="133.4,259.4 155.0,255.7 153.1,261.0 172.1,268.0 168.6,277.7 149.5,270.7 147.6,276.1" fill="#ffff00"/>
<polygon points="142.1,259.0 163.7,255.6 161.7,261.0 180.6,268.2 176.9,277.8 158.0,270.6 155.9,275.9" fill="#ffff00"/>
<polygon points="154.6,263.6 175.9,268.6 172.0,272.8 186.8,286.6 179.8,294.2 165.0,280.3 161.1,284.5" fill="#ffff00"/>
<polygon points="169.5,276.3 187.1,289.3 181.9,291.6 190.2,310.2 180.8,314.3 172.5,295.8 167.3,298.1" fill="#ffff00"/>
<polygon points="193.7,314.6 196.3,336.3 191.0,334.1 183.1,352.8 173.6,348.8 181.5,330.1 176.3,327.9" fill="#ff0000"/>
<polygon points="213.0,355.4 198.9,372.1 196.9,366.7 177.8,373.7 174.3,364.0 193.4,357.0 191.4,351.7" fill="#ff0000"/>
<polygon points="222.7,351.0 203.7,361.9 203.7,356.1 183.4,356.1 183.4,345.9 203.7,345.9 203.7,340.1" fill="#ff0000"/>
<polygon points="231.3,341.0 212.3,351.9 212.3,346.1 192.0,346.1 192.0,335.9 212.3,335.9 212.3,330.1" fill="#ff0000"/>
<polygon points="239.8,351.0 220.8,361.9 220.8,356.1 200.5,356.1 200.5,345.9 220.8,345.9 220.8,340.1" fill="#ff0000"/>
<polygon points="248.3,341.0 229.3,351.9 229.3,346.1 209.0,346.1 209.0,335.9 229.3,335.9 229.3,330.1" fill="#ff0000"/>
<polygon points="256.8,341.0 237.8,351.9 237.8,346.1 217.5,346.1 217.5,335.9 237.8,335.9 237.8,330.1" fill="#ff0000"/>
<polygon points="265.4,332.0 246.4,342.9 246.4,337.1 226.1,337.1 226.1,326.9 246.4,326.9 246.4,321.1" fill="#ff0000"/>
<polygon points="268.6,328.6 262.1,349.5 258.2,345.3 243.4,359.2 236.4,351.6 251.2,337.8 247.3,333.6" fill="#ff0000"/>
<polygon points="269.8,285.1 273.2,306.7 267.8,304.6 260.6,323.6 250.9,319.9 258.2,300.9 252.9,298.9" fill="#ff0000"/>
<polygon points="271.3,274.7 282.2,293.7 276.5,293.7 276.5,313.9 266.2,313.9 266.2,293.7 260.5,293.7" fill="#ffff00"/>
<polygon points="279.8,265.0 290.7,284.0 285.0,284.0 285.0,304.2 274.7,304.2 274.7,284.0 269.0,284.0" fill="#ffff00"/>
<polygon points="288.4,265.4 299.2,284.4 293.5,284.4 293.5,304.6 283.2,304.6 283.2,284.4 277.5,284.4" fill="#ffff00"/>
<polygon points="291.8,276.8 307.2,292.4 301.7,293.8 307.0,313.4 297.0,316.1 291.8,296.5 286.3,298.0" fill="#ffff00"/>
<polygon points="297.1,289.0 315.0,301.6 309.8,304.0 318.4,322.4 309.1,326.8 300.5,308.4 295.3,310.8" fill="#ff0000"/>
<polygon points="305.7,295.2 323.5,307.8 318.4,310.2 326.9,328.6 317.6,333.0 309.0,314.6 303.9,317.0" fill="#ff0000"/>
<polygon points="314.2,304.2 332.1,316.8 326.9,319.2 335.5,337.6 326.1,342.0 317.6,323.6 312.4,326.0" fill="#ff0000"/>
<polygon points="331.0,314.4 341.9,333.4 336.2,333.4 336.2,353.6 325.9,353.6 325.9,333.4 320.2,333.4" fill="#ff0000"/>
<polygon points="339.6,333.2 350.4,352.2 344.7,352.2 344.7,372.4 334.4,372.4 334.4,352.2 328.7,352.2" fill="#ff0000"/>
<polygon points="366.6,355.3 352.4,372.0 350.5,366.6 331.4,373.6 327.9,363.9 346.9,356.9 345.0,351.6" fill="#ff0000"/>
<polygon points="375.3,354.4 360.6,370.6 358.8,365.2 339.5,371.5 336.3,361.7 355.6,355.4 353.9,350.0" fill="#ff0000"/>
<polygon points="384.8,360.3 365.8,371.2 365.8,365.4 345.5,365.4 345.5,355.2 365.8,355.2 365.8,349.4" fill="#ff0000"/>
<polygon points="393.3,360.0 374.3,370.9 374.3,365.1 354.0,365.1 354.0,354.9 374.3,354.9 374.3,349.1" fill="#ff0000"/>
<polygon points="388.9,369.3 372.2,355.1 377.6,353.2 370.6,334.1 380.3,330.6 387.3,349.6 392.6,347.7" fill="#ff0000"/>
<polygon points="371.1,303.5 390.1,292.6 390.1,298.4 410.4,298.4 410.4,308.6 390.1,308.6 390.1,314.4" fill="#ff0000"/>
<polygon points="385.9,280.4 406.8,286.9 402.6,290.8 416.4,305.7 408.9,312.7 395.1,297.8 390.9,301.7" fill="#ffff00"/>
<polygon points="394.4,271.2 415.3,277.7 411.1,281.6 425.0,296.5 417.4,303.5 403.6,288.6 399.4,292.5" fill="#ffff00"/>
<polygon points="402.9,262.4 423.8,268.9 419.7,272.8 433.5,287.7 426.0,294.7 412.1,279.8 408.0,283.7" fill="#ffff00"/>
<polygon points="412.0,243.2 432.6,250.4 428.3,254.1 441.6,269.5 433.9,276.2 420.5,260.9 416.2,264.6" fill="#ffff00"/>
<polygon points="417.9,234.5 439.6,237.6 436.0,242.1 452.0,254.6 445.7,262.8 429.7,250.3 426.2,254.7" fill="#ffff00"/>
<polygon points="427.3,243.6 448.7,248.2 444.9,252.4 460.0,266.0 453.1,273.7 438.0,260.1 434.2,264.3" fill="#ffff00"/>
<polygon points="434.6,253.5 456.3,255.8 453.0,260.5 469.4,272.4 463.3,280.7 446.9,268.8 443.5,273.4" fill="#ffff00"/>
<polygon points="441.6,258.7 463.5,258.0 460.8,263.0 478.7,272.6 473.9,281.7 456.0,272.1 453.3,277.2" fill="#ffff00"/>
<polygon points="448.5,266.0 469.7,260.5 468.2,266.0 487.8,271.2 485.2,281.2 465.5,275.9 464.1,281.4" fill="#ffff00"/>
<polygon points="456.4,275.5 475.4,264.6 475.4,270.4 495.7,270.4 495.7,280.6 475.4,280.6 475.4,286.4" fill="#ffff00"/>
<polygon points="464.9,314.0 483.9,303.1 483.9,308.9 504.2,308.9 504.2,319.1 483.9,319.1 483.9,324.9" fill="#ff0000"/>
<polygon points="473.4,323.0 492.4,312.1 492.4,317.9 512.7,317.9 512.7,328.1 492.4,328.1 492.4,333.9" fill="#ff0000"/>
<polygon points="482.0,323.0 501.0,312.1 501.0,317.9 521.3,317.9 521.3,328.1 501.0,328.1 501.0,333.9" fill="#ff0000"/>
<polygon points="490.5,323.0 509.5,312.1 509.5,317.9 529.8,317.9 529.8,328.1 509.5,328.1 509.5,333.9" fill="#ff0000"/>
<polygon points="500.2,320.4 514.4,303.7 516.3,309.1 535.4,302.1 538.9,311.8 519.8,318.8 521.8,324.1" fill="#ff0000"/>
<polygon points="507.6,295.0 526.6,284.1 526.6,289.9 546.9,289.9 546.9,300.1 526.6,300.1 526.6,305.9" fill="#ffff00"/>
<polygon points="517.5,268.4 539.2,265.5 537.1,270.8 555.9,278.4 552.0,287.9 533.2,280.3 531.1,285.6" fill="#ffff00"/>
<polygon points="525.8,249.2 547.4,245.5 545.4,250.8 564.5,257.8 561.0,267.5 541.9,260.5 540.0,265.9" fill="#ffff00"/>
<polygon points="539.7,215.4 560.4,222.3 556.2,226.1 569.8,241.2 562.1,248.0 548.5,233.0 544.3,236.8" fill="#00ff00"/>
<polygon points="548.2,215.4 569.0,222.3 564.7,226.1 578.3,241.2 570.7,248.0 557.1,233.0 552.8,236.8" fill="#00ff00"/>
<polygon points="556.7,215.4 577.5,222.3 573.3,226.1 586.8,241.2 579.2,248.0 565.6,233.0 561.4,236.8" fill="#00ff00"/>
<polygon points="564.5,223.7 585.6,229.5 581.6,233.5 595.9,247.9 588.7,255.1 574.3,240.8 570.3,244.8" fill="#00ff00"/>
<polygon points="571.9,226.0 593.4,229.9 589.7,234.2 605.3,247.3 598.7,255.2 583.1,242.1 579.5,246.5" fill="#00ff00"/>
<polygon points="580.9,235.9 602.2,240.5 598.4,244.7 613.5,258.3 606.6,266.0 591.5,252.4 587.7,256.6" fill="#ffff00"/>
<polygon points="589.4,244.4 610.8,249.0 607.0,253.2 622.0,266.8 615.1,274.5 600.1,260.9 596.2,265.1" fill="#ffff00"/>
<polygon points="595.3,257.9 617.2,257.6 614.4,262.6 632.2,272.4 627.2,281.4 609.5,271.6 606.7,276.6" fill="#ffff00"/>
<polygon points="603.9,257.8 625.7,257.5 623.0,262.5 640.7,272.3 635.7,281.3 618.0,271.5 615.2,276.5" fill="#ffff00"/>
<polygon points="612.4,257.7 634.3,257.4 631.5,262.4 649.3,272.2 644.3,281.2 626.5,271.4 623.8,276.4" fill="#ffff00"/>
<polygon points="620.9,257.6 642.8,257.3 640.0,262.3 657.8,272.1 652.8,281.1 635.0,271.3 632.3,276.3" fill="#ffff00"/>
<polygon points="629.5,257.5 651.3,257.2 648.6,262.2 666.3,272.0 661.3,281.0 643.6,271.2 640.8,276.2" fill="#ffff00"/>
<polygon points="637.1,249.3 658.8,246.8 656.6,252.0 675.3,259.9 671.2,269.4 652.6,261.5 650.3,266.7" fill="#ffff00"/>
<polygon points="645.7,249.0 667.5,246.8 665.2,252.0 683.7,260.3 679.6,269.7 661.0,261.4 658.7,266.6" fill="#ffff00"/>
<polygon points="654.4,240.2 676.2,238.4 673.8,243.6 692.2,252.1 687.9,261.5 669.5,252.9 667.1,258.1" fill="#ffff00"/>
<polygon points="662.1,230.7 683.5,226.3 681.7,231.7 701.0,238.0 697.9,247.8 678.6,241.5 676.8,246.9" fill="#00ff00"/>
<polygon points="671.6,211.3 693.5,209.9 691.0,215.0 709.2,223.9 704.7,233.1 686.4,224.2 683.9,229.4" fill="#00ff00"/>
<polygon points="681.2,210.4 703.0,211.3 700.0,216.1 717.2,226.8 711.8,235.6 694.5,224.8 691.5,229.7" fill="#00ff00"/>
<polygon points="687.9,222.4 709.5,218.7 707.5,224.0 726.6,231.0 723.1,240.7 704.0,233.7 702.0,239.1" fill="#00ff00"/>
<polygon points="696.4,230.4 718.0,226.7 716.0,232.0 735.1,239.0 731.6,248.7 712.5,241.7 710.6,247.1" fill="#00ff00"/>
<polygon points="705.3,239.8 727.1,237.3 724.8,242.5 743.5,250.4 739.5,259.9 720.8,252.0 718.6,257.2" fill="#ffff00"/>
<polygon points="713.9,248.2 735.6,245.7 733.4,250.9 752.0,258.8 748.0,268.3 729.3,260.4 727.1,265.6" fill="#ffff00"/>
<polygon points="722.0,256.8 743.6,253.1 741.6,258.4 760.7,265.4 757.2,275.1 738.1,268.1 736.1,273.5" fill="#ffff00"/>
<polygon points="729.6,264.6 750.2,257.2 749.3,262.8 769.2,266.3 767.5,276.5 747.5,273.0 746.5,278.6" fill="#ffff00"/>
<polygon points="737.9,267.0 756.9,256.1 756.9,261.9 777.2,261.9 777.2,272.1 756.9,272.1 756.9,277.9" fill="#ffff00"/>
<polygon points="746.4,275.0 765.4,264.1 765.4,269.9 785.7,269.9 785.7,280.1 765.4,280.1 765.4,285.9" fill="#ffff00"/>
<polygon points="754.9,277.0 773.9,266.1 773.9,271.9 794.2,271.9 794.2,282.1 773.9,282.1 773.9,287.9" fill="#ffff00"/>
<polygon points="763.5,275.4 782.5,264.5 782.5,270.2 802.8,270.2 802.8,280.5 782.5,280.5 782.5,286.2" fill="#ffff00"/>
<polygon points="772.0,267.2 791.0,256.3 791.0,262.1 811.3,262.1 811.3,272.3 791.0,272.3 791.0,278.1" fill="#ffff00"/>
<polygon points="781.0,255.6 802.0,249.3 800.7,254.8 820.5,259.4 818.2,269.4 798.4,264.9 797.1,270.4" fill="#ffff00"/>
<polygon points="790.5,240.5 812.2,237.6 810.0,242.9 828.9,250.5 825.0,260.0 806.2,252.4 804.0,257.7" fill="#ffff00"/>
<polygon points="799.4,221.6 821.2,219.8 818.8,225.0 837.2,233.5 832.9,242.9 814.5,234.3 812.1,239.5" fill="#00ff00"/>
<polygon points="808.8,202.8 830.6,202.9 827.8,207.8 845.4,218.0 840.2,226.9 822.6,216.7 819.8,221.7" fill="#00ff00"/>
<polygon points="816.0,193.0 837.6,189.6 835.5,195.0 854.5,202.2 850.8,211.8 831.8,204.6 829.8,209.9" fill="#00ff00"/>
<polygon points="824.4,202.3 845.9,198.6 844.0,203.9 863.1,210.9 859.5,220.6 840.5,213.6 838.5,219.0" fill="#00ff00"/>
<polygon points="833.4,209.6 855.2,207.4 852.9,212.6 871.4,220.9 867.2,230.3 848.7,222.0 846.4,227.2" fill="#00ff00"/>
<polygon points="840.2,237.5 859.2,226.7 859.2,232.3 879.5,232.3 879.5,242.7 859.2,242.7 859.2,248.3" fill="#00ff00"/>
<polygon points="848.8,237.0 867.8,226.2 867.8,231.8 888.1,231.8 888.1,242.2 867.8,242.2 867.8,247.8" fill="#00ff00"/>
<polygon points="857.3,247.2 876.3,236.3 876.3,242.0 896.6,242.0 896.6,252.3 876.3,252.3 876.3,258.1" fill="#ffff00"/>
<polygon points="865.8,266.7 884.8,255.8 884.8,261.6 905.1,261.6 905.1,271.8 884.8,271.8 884.8,277.6" fill="#ffff00"/>
<polygon points="874.4,266.7 893.4,255.8 893.4,261.6 913.7,261.6 913.7,271.8 893.4,271.8 893.4,277.6" fill="#ffff00"/>
<polygon points="882.9,295.1 901.9,284.2 901.9,290.0 922.2,290.0 922.2,300.2 901.9,300.2 901.9,306.0" fill="#ffff00"/>
<polygon points="891.4,333.0 910.4,322.1 910.4,327.9 930.7,327.9 930.7,338.1 910.4,338.1 910.4,343.9" fill="#ff0000"/>
<polygon points="899.9,275.8 918.9,264.9 918.9,270.7 939.2,270.7 939.2,280.9 918.9,280.9 918.9,286.7" fill="#ffff00"/>
<polygon points="908.5,267.0 927.9,256.8 927.7,262.5 947.9,263.2 947.6,273.5 927.3,272.8 927.1,278.5" fill="#ffff00"/>
<polygon points="917.3,251.6 937.9,244.2 936.9,249.8 956.9,253.3 955.1,263.5 935.1,260.0 934.1,265.6" fill="#ffff00"/>
<polygon points="927.8,246.8 949.7,246.1 947.0,251.1 965.0,260.7 960.1,269.8 942.2,260.2 939.5,265.3" fill="#ffff00"/>
<polygon points="935.4,231.0 957.0,227.6 955.0,233.0 973.9,240.2 970.2,249.8 951.3,242.6 949.2,247.9" fill="#00ff00"/>
<polygon points="945.2,211.7 967.1,211.8 964.3,216.7 981.8,226.9 976.7,235.8 959.1,225.6 956.3,230.6" fill="#00ff00"/>
<polygon points="953.8,211.2 975.6,211.3 972.8,216.2 990.4,226.4 985.2,235.3 967.6,225.1 964.8,230.1" fill="#00ff00"/>
<polygon points="962.3,210.7 984.2,210.8 981.3,215.7 998.9,225.9 993.8,234.8 976.2,224.6 973.3,229.6" fill="#00ff00"/>
<polygon points="969.6,220.9 991.3,218.0 989.2,223.3 1008.0,230.9 1004.1,240.4 985.3,232.8 983.2,238.1" fill="#00ff00"/>
<polygon points="978.6,240.1 1000.4,238.3 998.0,243.5 1016.4,252.0 1012.0,261.4 993.6,252.8 991.2,258.0" fill="#ffff00"/>
<polygon points="985.3,256.3 1004.4,245.7 1004.3,251.4 1024.6,251.8 1024.5,262.1 1004.2,261.7 1004.1,267.4" fill="#ffff00"/>
<polygon points="994.5,266.3 1013.5,255.5 1013.5,261.2 1033.8,261.2 1033.8,271.4 1013.5,271.4 1013.5,277.2" fill="#ffff00"/>
</g>
</svg></body></html>
